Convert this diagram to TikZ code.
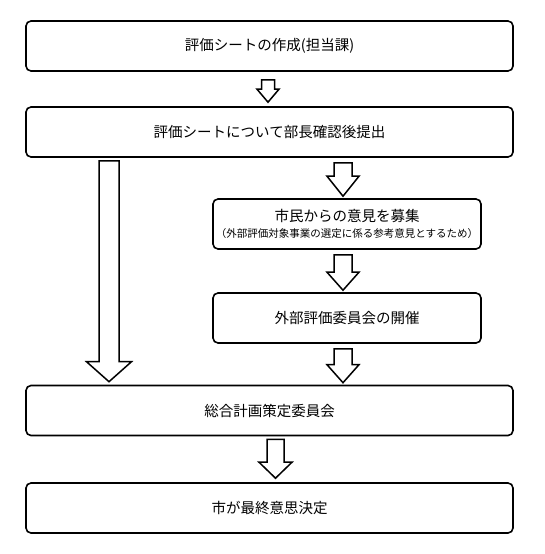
\documentclass[tikz,border=0pt]{standalone}
\usepackage{fontspec}
\setmainfont{Noto Sans CJK JP}
\usetikzlibrary{calc}
\tikzset{
  box/.style={draw, line width=1.6pt, rounded corners=5pt, inner sep=0pt,
    minimum height=50pt, align=center, font=\fontsize{14.5}{17}\selectfont},
  widebox/.style={box, minimum width=487pt},
  narrowbox/.style={box, minimum width=268pt},
  blk/.style={draw, line width=1.5pt, fill=white, line join=miter}
}
% from, to, x, top gap, tip gap, head length, half shaft, half head
\newcommand{\barrow}[8]{%
  \draw[blk] let \p1=(#1.south), \p2=(#2.north) in
    ({#3pt-#7pt},{\y1-#4pt}) -- ({#3pt+#7pt},{\y1-#4pt})
    -- ({#3pt+#7pt},{\y2+#5pt+#6pt}) -- ({#3pt+#8pt},{\y2+#5pt+#6pt})
    -- ({#3pt},{\y2+#5pt}) -- ({#3pt-#8pt},{\y2+#5pt+#6pt})
    -- ({#3pt-#7pt},{\y2+#5pt+#6pt}) -- cycle;}
\begin{document}
\begin{tikzpicture}[x=1pt,y=-1pt]
\useasboundingbox (0,0) rectangle (544,554);
\node[widebox] (b1) at (269.5,46) {評価シートの作成(担当課)};
\node[widebox] (b2) at (269.5,132) {評価シートについて部長確認後提出};
\node[narrowbox] (b3) at (347,224) {市民からの意見を募集\\[-1pt]{\fontsize{10.5}{12}\selectfont （外部評価対象事業の選定に係る参考意見とするため）}};
\node[narrowbox] (b4) at (347,318) {外部評価委員会の開催};
\node[widebox] (b5) at (269.5,410.5) {総合計画策定委員会};
\node[widebox] (b6) at (269.5,508) {市が最終意思決定};
\barrow{b1}{b2}{268}{8}{4}{13}{6.5}{11}
\barrow{b2}{b3}{343}{5}{2}{20}{9}{16}
\barrow{b3}{b4}{343}{5}{2}{18}{9}{16}
\barrow{b4}{b5}{343}{5}{2}{18}{9}{16}
\barrow{b2}{b5}{109}{3}{3}{20}{10}{22.5}
\barrow{b5}{b6}{275.5}{3}{4}{16}{8.5}{16.5}
\end{tikzpicture}
\end{document}
